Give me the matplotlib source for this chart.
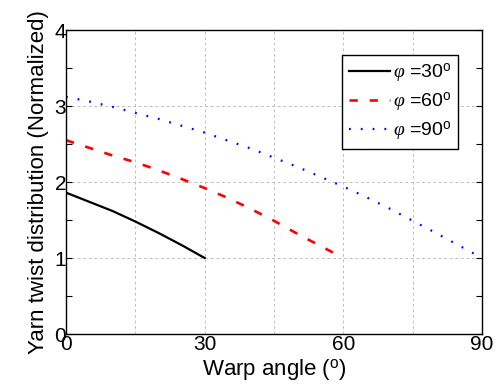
import matplotlib
matplotlib.use("Agg")
import matplotlib.pyplot as plt
import numpy as np

plt.rcParams['font.family'] = ['Liberation Sans', 'DejaVu Sans']
plt.rcParams['mathtext.fontset'] = 'custom'
plt.rcParams['mathtext.rm'] = 'Liberation Sans'
plt.rcParams['mathtext.it'] = 'Liberation Serif:italic'
plt.rcParams['lines.scale_dashes'] = False

# Data
x30 = [0, 5, 10, 15, 20, 25, 30]
y30 = [1.86, 1.74, 1.62, 1.48, 1.33, 1.17, 1.0]

x60 = [0, 5, 10, 15, 20, 25, 30, 35, 40, 45, 50, 55, 60]
y60 = [2.55, 2.45, 2.35, 2.26, 2.155, 2.04, 1.92, 1.79, 1.645, 1.49, 1.32, 1.16, 1.0]

x90 = [0, 5, 10, 15, 20, 25, 30, 35, 40, 45, 50, 55, 60, 65, 70, 75, 80, 85, 90]
y90 = [3.12, 3.06, 2.99, 2.91, 2.83, 2.74, 2.65, 2.545, 2.44, 2.32, 2.20, 2.07,
       1.94, 1.80, 1.65, 1.49, 1.33, 1.165, 1.0]

labels = [r'$\varphi$ =30$^{\rm o}$', r'$\varphi$ =60$^{\rm o}$', r'$\varphi$ =90$^{\rm o}$']
xticks = [0, 15, 30, 45, 60, 75, 90]
xticklabels = ['0', '', '30', '', '60', '', '90']
yticks = [0, 1, 2, 3, 4]

fig = plt.figure(figsize=(4.96, 3.88), dpi=100)
ax = fig.add_axes([66/496, 54/388, 416/496, 304/388])

ax.plot(x30, y30, color='black', lw=1.6, label=labels[0])
ax.plot(x60, y60, color='red', lw=1.9, dashes=(6, 8.5), label=labels[1])
ax.plot(x90, y90, color='blue', lw=1.6, dashes=(1.3, 7.2), label=labels[2])

ax.set_xlim(0, 90)
ax.set_ylim(0, 4)
ax.set_xticks(xticks)
ax.set_xticklabels(xticklabels)
ax.set_yticks(yticks)
ax.set_yticks(np.arange(0, 4.01, 0.5), minor=True)
ax.tick_params(axis='both', which='both', direction='in', top=True, right=True,
               labelsize=15, length=3, width=0.8)
ax.tick_params(axis='x', which='major', length=0, pad=1)
ax.tick_params(axis='y', which='major', length=4, pad=0)
ax.tick_params(axis='y', which='minor', length=4)
for s in ax.spines.values():
    s.set_linewidth(1.0)

ax.grid(True, which='major', color='#bdbdbd', linestyle=(0, (2, 2)), lw=0.7)

ax.set_xlabel('Warp angle ($^{\\rm o}$)', fontsize=16, labelpad=2)
ax.set_ylabel('Yarn twist distribution (Normalized)', fontsize=16, labelpad=4)

leg = ax.legend(loc='upper right', bbox_to_anchor=(0.942, 0.918), fontsize=14,
                frameon=True, fancybox=False, framealpha=1, edgecolor='black',
                handlelength=2.1, handletextpad=0.15, borderpad=0.35,
                labelspacing=0.28, borderaxespad=0)
leg.get_frame().set_linewidth(1.0)

fig.savefig('out.png', dpi=100)
